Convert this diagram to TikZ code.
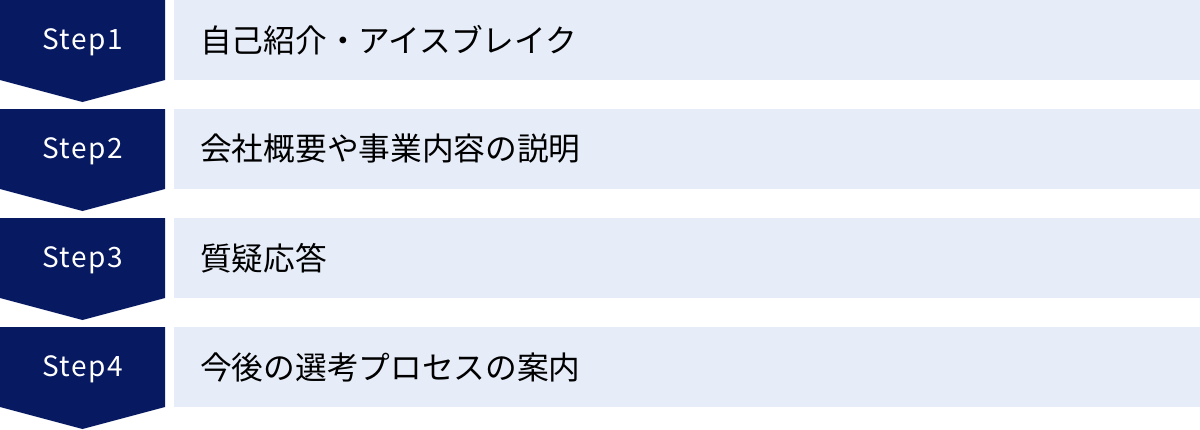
\documentclass[tikz,border=0pt]{standalone}
\usepackage{fontspec}
\setmainfont{Noto Sans CJK JP}
\newfontfamily\stepfont[LetterSpace=5]{Noto Sans CJK JP}
\definecolor{navy}{HTML}{061961}
\definecolor{pale}{HTML}{E6ECF8}
\begin{document}
\begin{tikzpicture}[x=1pt,y=-1pt,
  stepshape/.style={fill=navy,draw=none},
  barbox/.style={fill=pale,draw=none},
  steplabel/.style={text=white,font=\stepfont\fontsize{28}{28}\selectfont,inner sep=0pt},
  desclabel/.style={text=black,font=\fontsize{31.7}{31.7}\selectfont,anchor=west,inner sep=0pt}]
\useasboundingbox (0,0) rectangle (1200,429);
\foreach \i/\t [count=\k from 0] in {1/自己紹介・アイスブレイク,2/会社概要や事業内容の説明,3/質疑応答,4/今後の選考プロセスの案内}{
  \pgfmathsetmacro{\yy}{\k*109}
  \fill[stepshape] (0,\yy) -- (165,\yy) -- (165,\yy+80) -- (82.5,\yy+102) -- (0,\yy+80) -- cycle;
  \fill[barbox] (174,\yy) rectangle (1200,\yy+79.5);
  \node[steplabel] (s\i) at (82.5,\yy+42.5) {Step\i};
  \node[desclabel] (d\i) at (200,\yy+40) {\t};
}
\end{tikzpicture}
\end{document}
